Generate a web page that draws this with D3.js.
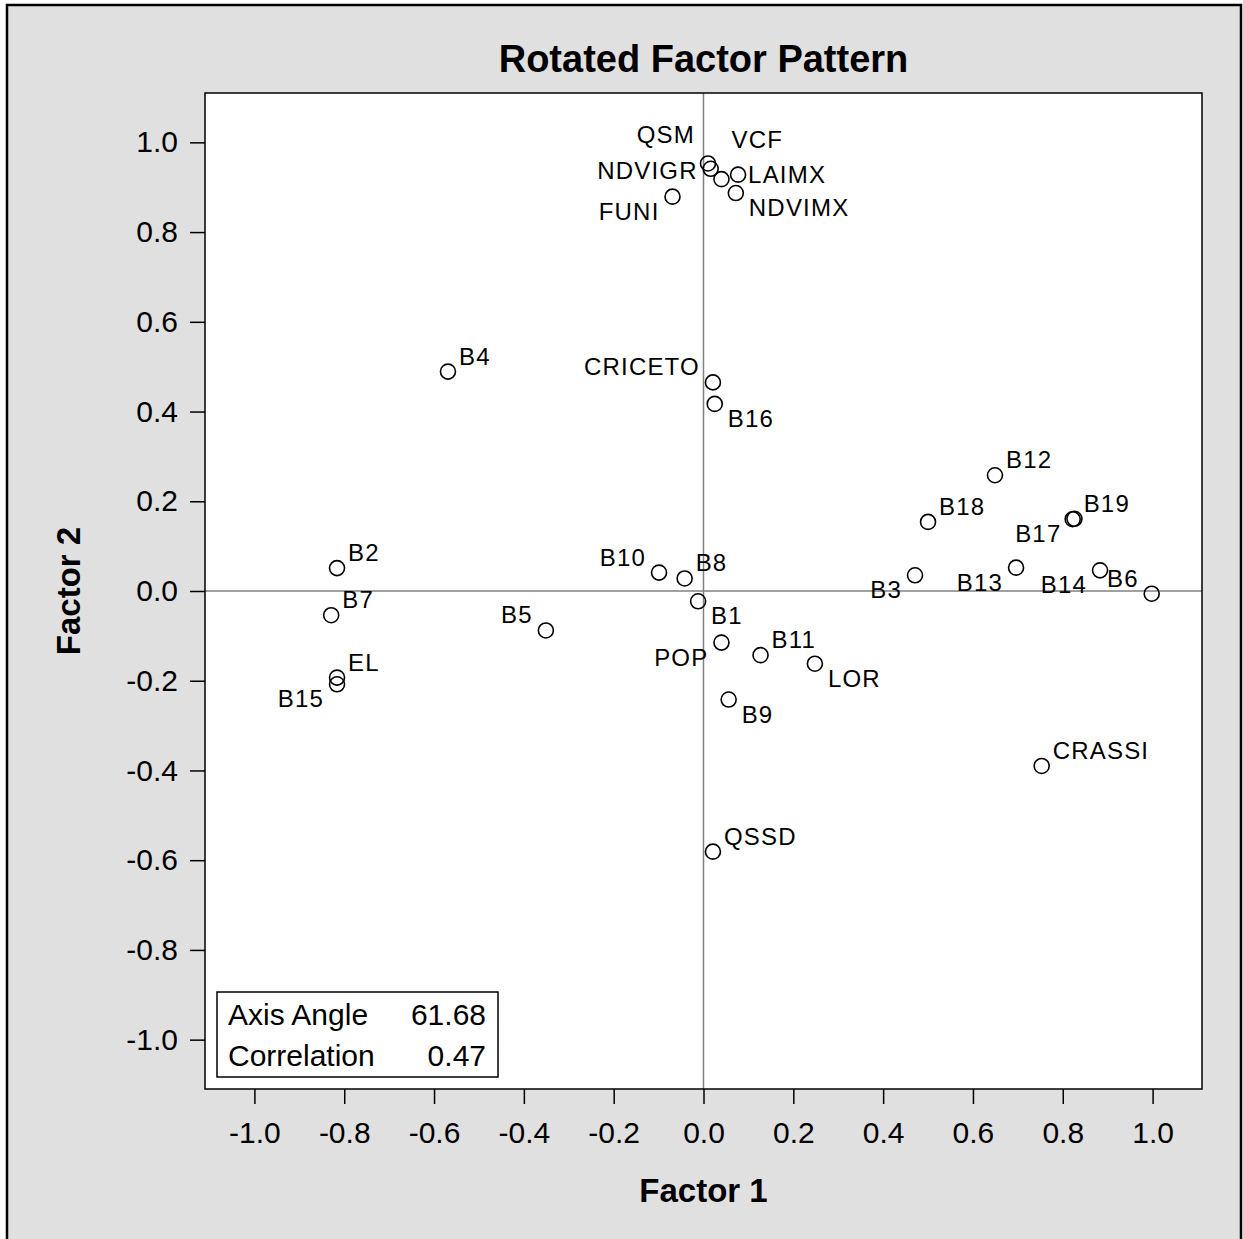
<!DOCTYPE html>
<html><head><meta charset="utf-8">
<script src="https://cdn.jsdelivr.net/npm/d3@7"></script>
<style>
html,body{margin:0;padding:0;background:#fff;}
text{font-family:"Liberation Sans",Arial,sans-serif;}
</style></head>
<body>
<script>
// Data
const names = ["QSM","NDVIGR","VCF","LAIMX","NDVIMX","FUNI","B4","CRICETO","B16","B12","B18","B19","B17","B3","B13","B14","B6","B2","B7","B5","EL","B15","B10","B8","B1","POP","B11","LOR","B9","CRASSI","QSSD"];
const factor1 = [0.010,0.016,0.040,0.077,0.072,-0.069,-0.569,0.021,0.025,0.649,0.500,0.822,0.826,0.471,0.696,0.883,0.998,-0.816,-0.829,-0.351,-0.816,-0.816,-0.099,-0.042,-0.012,0.040,0.127,0.248,0.056,0.753,0.021];
const factor2 = [0.953,0.941,0.918,0.928,0.887,0.879,0.489,0.465,0.417,0.258,0.154,0.160,0.161,0.035,0.052,0.046,-0.006,0.051,-0.054,-0.088,-0.193,-0.208,0.041,0.028,-0.023,-0.115,-0.143,-0.162,-0.242,-0.390,-0.581];
const labelPlace = ["uul","l","uur","r","lr","ll","ur","ul","lr","ur","ur","ur","ll","ll","ll","ll","ul","ur","ur","ul","ur","ll","ul","ur","lr","ll","ur","lr","lr","ur","ur"];
const tickValues = [-1.0,-0.8,-0.6,-0.4,-0.2,0.0,0.2,0.4,0.6,0.8,1.0];
const title = "Rotated Factor Pattern";
const xTitle = "Factor 1", yTitle = "Factor 2";
const statNames = ["Axis Angle","Correlation"];
const statValues = ["61.68","0.47"];

const W = 1243, H = 1239;
const svg = d3.select("body").append("svg").attr("width",W).attr("height",H);
svg.append("rect").attr("x",7).attr("y",5).attr("width",1234).attr("height",1250)
  .attr("fill","#e0e0e0").attr("stroke","#000").attr("stroke-width",2.5);

const L = 205, R = 1202, T = 93, B = 1089;
const x = d3.scaleLinear().domain([-1.11,1.11]).range([L,R]);
const y = d3.scaleLinear().domain([-1.11,1.11]).range([B,T]);

svg.append("rect").attr("x",L).attr("y",T).attr("width",R-L).attr("height",B-T)
  .attr("fill","#fff");

// reference lines
svg.append("line").attr("x1",x(0)).attr("x2",x(0)).attr("y1",T).attr("y2",B)
  .attr("stroke","#808080").attr("stroke-width",1.5);
svg.append("line").attr("x1",L).attr("x2",R).attr("y1",y(0)).attr("y2",y(0))
  .attr("stroke","#808080").attr("stroke-width",1.5);

const f1 = d3.format(".1f");
const fmt = d => f1(d).replace("\u2212","-");
const xAxis = svg.append("g").attr("transform",`translate(0,${B})`)
  .call(d3.axisBottom(x).tickValues(tickValues).tickFormat(fmt).tickSize(15).tickPadding(18));
const yAxis = svg.append("g").attr("transform",`translate(${L},0)`)
  .call(d3.axisLeft(y).tickValues(tickValues).tickFormat(fmt).tickSize(15).tickPadding(12));
[xAxis,yAxis].forEach(a=>{
  a.select(".domain").remove();
  a.selectAll(".tick line").attr("stroke","#000").attr("stroke-width",1.5);
  a.selectAll(".tick text").attr("fill","#000").style("font-size","30px")
   .style("font-family","'Liberation Sans',Arial,sans-serif");
});
xAxis.selectAll(".tick text").attr("dy","0.71em");

svg.append("rect").attr("x",L).attr("y",T).attr("width",R-L).attr("height",B-T)
  .attr("fill","none").attr("stroke","#000").attr("stroke-width",1.5);

// titles
svg.append("text").attr("x",(L+R)/2).attr("y",72).attr("text-anchor","middle")
  .style("font-size","38px").style("font-weight","bold").text(title);
svg.append("text").attr("x",(L+R)/2).attr("y",1202).attr("text-anchor","middle")
  .style("font-size","33px").style("font-weight","bold").text(xTitle);
svg.append("text").attr("transform",`translate(80,${(T+B)/2}) rotate(-90)`).attr("text-anchor","middle")
  .style("font-size","33px").style("font-weight","bold").text(yTitle);

// points
const pts = names.map((n,i)=>({n, fx:factor1[i], fy:factor2[i], p:labelPlace[i]}));
const place = {
  ur:{a:"start",dx:11,dy:-7}, ul:{a:"end",dx:-13,dy:-7},
  lr:{a:"start",dx:13,dy:23}, ll:{a:"end",dx:-13,dy:23},
  r:{a:"start",dx:10,dy:8}, l:{a:"end",dx:-13,dy:10},
  uul:{a:"end",dx:-13,dy:-20}, uur:{a:"start",dx:10,dy:-31}
};
svg.append("g").selectAll("circle").data(pts).join("circle")
  .attr("cx",d=>x(d.fx)).attr("cy",d=>y(d.fy)).attr("r",7.5)
  .attr("fill","none").attr("stroke","#000").attr("stroke-width",1.6);
svg.append("g").selectAll("text").data(pts).join("text")
  .attr("x",d=>x(d.fx)+place[d.p].dx).attr("y",d=>y(d.fy)+place[d.p].dy)
  .attr("text-anchor",d=>place[d.p].a)
  .style("font-size","24px").style("letter-spacing","1.2px").attr("fill","#000")
  .text(d=>d.n);

// inset stats box
const bx = L+12, bw = 281, bh = 85, by = B-12-bh;
svg.append("rect").attr("x",bx).attr("y",by).attr("width",bw).attr("height",bh)
  .attr("fill","#fff").attr("stroke","#000").attr("stroke-width",1.5);
statNames.forEach((s,i)=>{
  svg.append("text").attr("x",bx+11).attr("y",by+33+i*41).style("font-size","30px").text(s);
  svg.append("text").attr("x",bx+bw-12).attr("y",by+33+i*41).attr("text-anchor","end").style("font-size","30px").text(statValues[i]);
});
</script>
</body></html>
